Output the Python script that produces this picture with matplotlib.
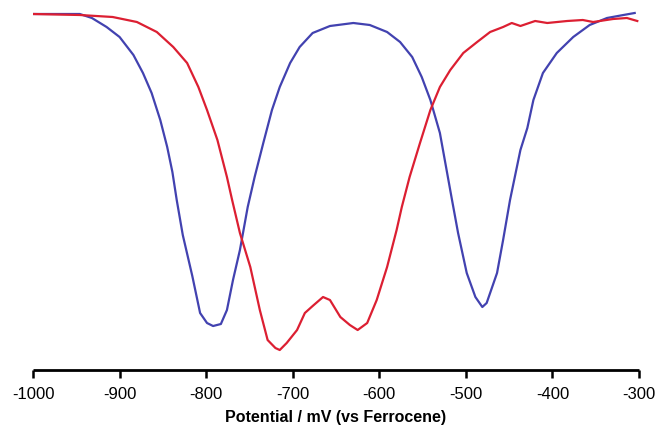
import matplotlib.pyplot as plt

# potential (mV vs Fc) and current (arbitrary units, baseline = 0)
red_x = [-1000, -946, -908, -880, -857, -838, -822, -809, -799, -787, -776, -770,
         -761, -749, -738, -729, -720, -715, -707, -695, -686, -677, -665, -657,
         -645, -634, -625, -614, -603, -591, -580, -574, -565, -553, -541, -530,
         -518, -503, -487, -472, -457, -447, -437, -420, -406, -383, -365, -353,
         -330, -314, -302]
red_y = [0, -1, -3, -8, -18, -33, -49, -73, -96, -126, -163, -186,
         -219, -253, -296, -326, -334, -336, -329, -316, -299, -292, -283, -286,
         -303, -311, -316, -309, -286, -253, -216, -193, -163, -129, -96, -73,
         -56, -39, -28, -18, -13, -9, -12, -7, -9, -7, -6, -8,
         -5, -4, -7]

blue_x = [-1000, -946, -932, -915, -900, -884, -873, -863, -853, -845, -839, -834,
          -827, -816, -807, -799, -792, -783, -776, -769, -761, -752, -744, -734,
          -724, -715, -703, -692, -677, -657, -630, -611, -591, -576, -562, -551,
          -541, -530, -516, -509, -499, -489, -481, -476, -464, -457, -449, -437,
          -429, -422, -411, -395, -376, -357, -337, -318, -305]
blue_y = [0, 0, -4, -13, -23, -41, -59, -79, -106, -133, -158, -186,
          -221, -262, -299, -309, -312, -310, -296, -266, -236, -193, -163, -129,
          -96, -73, -49, -33, -19, -12, -9, -11, -18, -28, -43, -63,
          -86, -119, -186, -219, -259, -283, -293, -289, -259, -226, -186, -136,
          -114, -86, -59, -39, -23, -11, -4, -1, 1]

xticks = [-1000, -900, -800, -700, -600, -500, -400, -300]

plt.rcParams['font.family'] = ['Liberation Sans', 'DejaVu Sans']

fig = plt.figure(figsize=(6.55, 4.30), dpi=100)
ax = fig.add_axes([0.0504, 0.1395, 0.9252, 0.8419])

ax.plot(blue_x, blue_y, color='#4242B0', lw=1.6)
ax.plot(red_x, red_y, color='#DC1F32', lw=1.6)

ax.set_xlim(-1000, -300)
ax.set_ylim(-356, 6)

for s in ['left', 'right', 'top']:
    ax.spines[s].set_visible(False)
ax.spines['bottom'].set_linewidth(2)
ax.spines['bottom'].set_capstyle('butt')
ax.set_yticks([])
ax.set_xticks(xticks)
ax.set_xticklabels([str(t) for t in xticks], fontsize=12)
ax.tick_params(axis='x', direction='out', length=6, width=1.8, pad=6)
ax.set_xlabel('Potential / mV (vs Ferrocene)', fontsize=11.5, fontweight='bold', labelpad=6)

fig.savefig('out.png', dpi=100)
